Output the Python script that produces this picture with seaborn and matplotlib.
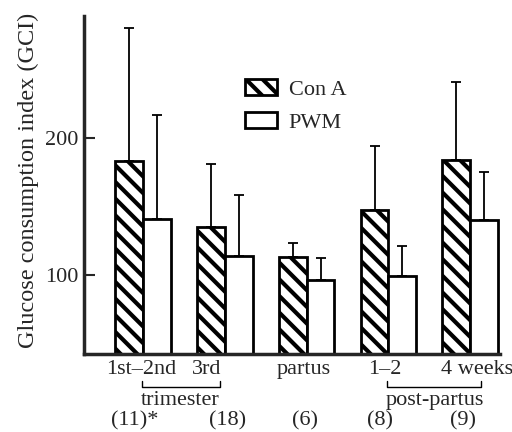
import pandas as pd
import seaborn as sns
import matplotlib.pyplot as plt
from matplotlib.patches import Patch
from matplotlib.transforms import blended_transform_factory

# Values (mean GCI and the upper SD whisker)
groups = ["1st-2nd", "3rd", "partus", "1-2", "4 weeks"]
series = ["Con A", "PWM"]
con_a = [183, 135, 113, 147, 184]
con_a_sd = [97, 46, 10, 47, 57]
pwm = [141, 114, 96, 99, 140]
pwm_sd = [76, 44, 16, 22, 35]
tick_labels = ["1st\u20132nd", "3rd", "partus", "1\u20132", "4 weeks"]
tick_pos = [-0.02, 0.78, 1.96, 2.96, 4.08]
n_labels = ["(11)*", "(18)", "(6)", "(8)", "(9)"]
n_pos = [-0.1, 1.03, 1.98, 2.9, 3.91]

df = pd.DataFrame({
    "group": groups * 2,
    "series": [series[0]] * len(groups) + [series[1]] * len(groups),
    "gci": con_a + pwm,
})

sns.set_style("ticks")
plt.rcParams["font.family"] = ["Liberation Serif", "DejaVu Serif"]
plt.rcParams["hatch.linewidth"] = 3.0
plt.rcParams["hatch.color"] = "black"
fs = 16

fig = plt.figure(figsize=(5.12, 4.32), dpi=100)
ax = fig.add_axes([0.164, 0.180, 0.813, 0.783])

sns.barplot(data=df, x="group", y="gci", hue="series", order=groups,
            hue_order=series, palette=["white", "white"], width=0.68,
            edgecolor="black", linewidth=2, errorbar=None, legend=False, ax=ax)

# hatch the Con A bars, then draw one-sided error bars from the bar tops
for bar in ax.containers[0]:
    bar.set_hatch("\\\\")
for cont, vals, sd in zip(ax.containers, [con_a, pwm], [con_a_sd, pwm_sd]):
    xs = [b.get_x() + b.get_width() / 2 for b in cont]
    ax.errorbar(xs, vals, yerr=[[0] * len(sd), sd], fmt="none", ecolor="black",
                elinewidth=1.3, capsize=3.4, capthick=1.3, zorder=3)

ax.set_xlim(-0.722, 4.367)
ax.set_ylim(42, 289)
sns.despine(ax=ax)
ax.spines["left"].set_linewidth(2.5)
ax.spines["bottom"].set_linewidth(2.5)

ax.set_yticks([100, 200])
ax.tick_params(axis="y", direction="in", length=8, width=1.5, labelsize=fs, pad=4)
ax.set_xticks(tick_pos)
ax.set_xticklabels(tick_labels)
ax.tick_params(axis="x", length=0, labelsize=fs, pad=4)
ax.set_xlabel("")
ax.set_ylabel("Glucose consumption index (GCI)", fontsize=17.5)
ax.yaxis.set_label_coords(-0.108, 0.515)

trans = blended_transform_factory(ax.transData, ax.transAxes)
# brackets under the first row of labels
for x0, x1 in [(-0.01, 0.94), (2.98, 4.13)]:
    ax.plot([x0, x0, x1, x1], [-0.078, -0.097, -0.097, -0.078], color="black",
            lw=1, transform=trans, clip_on=False)
ax.text(0.45, -0.138, "trimester", fontsize=fs, ha="center", va="center", transform=trans)
ax.text(3.57, -0.138, "post-partus", fontsize=fs, ha="center", va="center", transform=trans)
for x, lab in zip(n_pos, n_labels):
    ax.text(x, -0.196, lab, fontsize=fs, ha="center", va="center", transform=trans)

handles = [Patch(facecolor="white", edgecolor="black", lw=2, hatch="\\\\", label=series[0]),
           Patch(facecolor="white", edgecolor="black", lw=2, label=series[1])]
ax.legend(handles=handles, loc="upper left", bbox_to_anchor=(0.366, 0.84),
          frameon=False, fontsize=fs, handlelength=1.45, handleheight=0.75,
          handletextpad=0.5, labelspacing=0.55, borderaxespad=0)

fig.savefig("out.png", dpi=100)
